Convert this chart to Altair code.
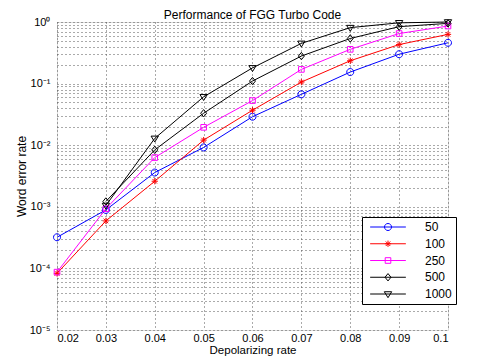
import altair as alt
import pandas as pd

# ---- data ----
depolarizing = [0.02, 0.03, 0.04, 0.05, 0.06, 0.07, 0.08, 0.09, 0.10]
series_names = ["50", "100", "250", "500", "1000"]
wer_50 = [3.2e-4, 8.9e-4, 3.6e-3, 9.2e-3, 0.029, 0.067, 0.154, 0.30, 0.46]
wer_100 = [8.3e-5, 5.9e-4, 2.6e-3, 0.0121, 0.037, 0.106, 0.235, 0.43, 0.63]
wer_250 = [8.7e-5, 9.3e-4, 6.3e-3, 0.0195, 0.053, 0.17, 0.36, 0.65, 0.86]
wer_500 = [None, 1.22e-3, 8.4e-3, 0.033, 0.11, 0.28, 0.54, 0.84, 0.95]
wer_1000 = [None, 1.05e-3, 0.0129, 0.061, 0.18, 0.45, 0.81, 0.97, 1.0]
series_colors = ["#0000ff", "#ff0000", "#ff00ff", "#000000", "#000000"]

x_ticks = [0.02, 0.03, 0.04, 0.05, 0.06, 0.07, 0.08, 0.09, 0.10]
y_major = [1e-5, 1e-4, 1e-3, 1e-2, 1e-1, 1.0]
y_major_labels = ["10⁻⁵", "10⁻⁴", "10⁻³", "10⁻²", "10⁻¹", "10⁰"]
y_minor_mult = [2, 3, 4, 5, 6, 7, 8, 9]

# ---- table ----
rows = []
for name, vals in zip(series_names, [wer_50, wer_100, wer_250, wer_500, wer_1000]):
    for x, v in zip(depolarizing, vals):
        if v is not None:
            rows.append({"rate": x, "wer": v, "series": name})
df = pd.DataFrame(rows)

y_values = []
for m in y_major[:-1]:
    y_values.append(m)
    for k in y_minor_mult:
        y_values.append(k * m)
y_values.append(y_major[-1])

label_expr = ""
for v, lab in zip(y_major, y_major_labels):
    label_expr += f"datum.value == {v} ? '{lab}' : "
label_expr += "''"

# marker shapes (custom paths, unit box)
circle = "M1,0A1,1 0 1,1 -1,0A1,1 0 1,1 1,0Z"
star = "M-0.9,0L0.9,0M0,-0.9L0,0.9M-0.65,-0.65L0.65,0.65M-0.65,0.65L0.65,-0.65"
square = "M-0.8,-0.8L0.8,-0.8L0.8,0.8L-0.8,0.8Z"
diamond = "M0,-1.05L0.85,0L0,1.05L-0.85,0Z"
tri_down = "M-1.05,-0.65L1.05,-0.65L0,1.05Z"
marker_paths = [circle, star, square, diamond, tri_down]
leg_line = "M-5.1,0L5.1,0"
legend_paths = [leg_line + p for p in marker_paths]

xs = alt.X("rate:Q",
           scale=alt.Scale(domain=[0.02, 0.1], nice=False, zero=False),
           axis=alt.Axis(values=x_ticks, format=".2~f", title="Depolarizing rate",
                         grid=True, gridDash=[1, 3], gridColor="#555", gridWidth=1,
                         ticks=False, domain=False, labelFontSize=11, labelPadding=2.5,
                         titleFontSize=11.5, titleFontWeight="normal",
                         titleY=23.5, titleBaseline="alphabetic",
                         labelColor="#000", titleColor="#000",
                         labelFont="Liberation Sans", titleFont="Liberation Sans"))
ys = alt.Y("wer:Q",
           scale=alt.Scale(type="log", domain=[1e-5, 1], nice=False),
           axis=alt.Axis(values=y_values, labelExpr=label_expr, title="Word error rate",
                         grid=True, gridDash=[1, 3], gridColor="#555", gridWidth=1,
                         ticks=False, domain=False, labelFontSize=11, labelPadding=7,
                         titleFontSize=12, titleFontWeight="normal",
                         titleX=-32, titleY=154, titleBaseline="alphabetic",
                         labelColor="#000", titleColor="#000", labelOverlap=False,
                         labelFont="Liberation Sans", titleFont="Liberation Sans"))

cscale = alt.Scale(domain=series_names, range=series_colors)

lines = alt.Chart(df).mark_line(strokeWidth=1).encode(
    x=xs, y=ys,
    color=alt.Color("series:N", scale=cscale, legend=None),
)
points = alt.Chart(df).mark_point(filled=False, size=49, strokeWidth=1, opacity=1).encode(
    x=xs, y=ys,
    color=alt.Color("series:N", scale=cscale, legend=None),
    shape=alt.Shape("series:N", scale=alt.Scale(domain=series_names, range=marker_paths), legend=None),
)

leg = alt.Legend(title=None, orient="none", legendX=305, legendY=195,
                 fillColor="#ffffff", strokeColor="#000000", padding=4,
                 labelFontSize=12, labelFont="Liberation Sans", labelColor="#000",
                 symbolOffset=16, labelOffset=31, rowPadding=4.75,
                 symbolSize=49, symbolStrokeWidth=1, symbolFillColor="transparent")
legend_layer = alt.Chart(df).transform_filter("false").mark_point(
    filled=False, size=49, strokeWidth=1, opacity=1).encode(
    x=xs, y=ys,
    color=alt.Color("series:N", scale=cscale, legend=leg),
    shape=alt.Shape("series:N", scale=alt.Scale(domain=series_names, range=legend_paths), legend=leg),
)

chart = alt.layer(lines, points, legend_layer).resolve_scale(
    color="independent", shape="independent"
).properties(
    width=391, height=308,
    autosize=alt.AutoSizeParams(type="none"),
    padding={"left": 49, "top": 14, "right": 33, "bottom": 26},
    title=alt.Title("Performance of FGG Turbo Code", fontSize=12, fontWeight="normal",
                    font="Liberation Sans", color="#000", offset=4, dy=9.5),
).configure_view(stroke="#000", strokeWidth=1).configure(background="#ffffff")

chart.save("out.html", embed_options={"renderer": "svg", "actions": False})
